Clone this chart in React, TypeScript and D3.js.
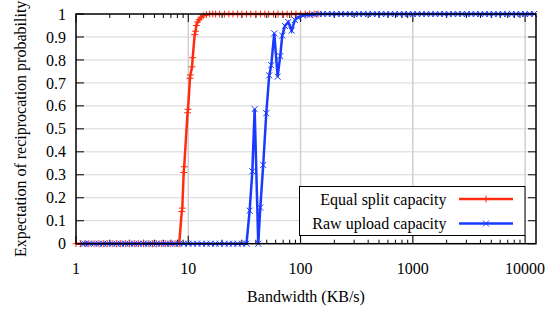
import React, { useRef, useEffect } from 'react';
import * as d3 from 'd3';

// Equal split capacity: flat zero part, the rise, then flat at one
const redZeroX = [1, 1.1, 1.2, 1.3, 1.45, 1.6, 1.75, 1.9, 2.1, 2.3, 2.5, 2.75, 3, 3.3, 3.6, 4, 4.4, 4.8, 5.2, 5.75, 6.3, 6.9, 7.6, 8.3];
const redRise = [
  [8.75, 0.14], [8.85, 0.155], [9.1, 0.31], [9.2, 0.335], [9.85, 0.57], [9.95, 0.585],
  [10.35, 0.72], [10.45, 0.735], [10.8, 0.77], [10.95, 0.81], [11.4, 0.91], [11.6, 0.925],
  [11.8, 0.95], [12.1, 0.965], [12.5, 0.975], [13, 0.985], [13.6, 0.993], [14.5, 0.997],
];
const redOneX = [15.5, 16.5, 17.5, 19, 21, 23, 25, 27.5, 30, 33, 36, 40, 44, 48, 52, 57.5, 63, 69, 76, 83, 91, 100, 110, 120, 132, 143];

// Raw upload capacity
const blueZeroX = [1.15, 1.2, 1.3, 1.45, 1.6, 1.75, 1.9, 2.1, 2.3, 2.5, 2.75, 3, 3.3, 3.6, 4, 4.4, 4.8, 5.2, 5.75, 6.3, 6.9, 7.6, 8.3, 9.1, 10, 11, 12, 13.2, 14.5, 15.8, 17.4, 19, 21, 23, 25, 27.5, 30, 33];
const blueRise = [
  [35.2, 0.144], [37.2, 0.315], [39, 0.586], [42, 0], [43.8, 0.157], [46.5, 0.343],
  [49.5, 0.568], [52.6, 0.733], [54.8, 0.777], [58.3, 0.916], [62.5, 0.727], [65.9, 0.817],
  [68.7, 0.906], [72.6, 0.948], [77.7, 0.965], [83.3, 0.928], [89.1, 0.974], [94.8, 0.985],
  [105, 0.993], [121, 0.996], [132, 0.998],
];
const blueOneX = [145, 158, 174, 190, 209, 229, 251, 275, 302, 331, 363, 398, 437, 479, 525, 575, 631, 692, 759, 832, 912, 1000, 1096, 1202, 1318, 1445, 1585, 1738, 1905, 2089, 2291, 2512, 2754, 3020, 3311, 3631, 3981, 4365, 4786, 5248, 5754, 6310, 6918, 7586, 8318, 9120, 10000, 10960, 12020];

const xTicks = [1, 10, 100, 1000, 10000];
const yTicks = [0, 0.1, 0.2, 0.3, 0.4, 0.5, 0.6, 0.7, 0.8, 0.9, 1];
const seriesNames = ['Equal split capacity', 'Raw upload capacity'];

const RED = '#ff2d10';
const BLUE = '#1a3aff';
const FONT = '"Liberation Serif", "Times New Roman", "DejaVu Serif", serif';

function App() {
  const gRef = useRef(null);

  useEffect(() => {
    const svg = d3.select(gRef.current);
    svg.selectAll('*').remove();

    const left = 76, right = 536, top = 14, bottom = 243.7;

    const x = d3.scaleLog().domain([1, 12500]).range([left, right]);
    const y = d3.scaleLinear().domain([0, 1]).range([bottom, top]);

    const red = [
      ...redZeroX.map((v) => [v, 0]),
      ...redRise,
      ...redOneX.map((v) => [v, 1]),
    ];
    const blue = [
      ...blueZeroX.map((v) => [v, 0]),
      ...blueRise,
      ...blueOneX.map((v) => [v, 1]),
    ];

    // grid
    svg.append('g')
      .selectAll('line')
      .data(yTicks.slice(1, -1))
      .join('line')
      .attr('x1', left).attr('x2', right)
      .attr('y1', (d) => y(d)).attr('y2', (d) => y(d))
      .attr('stroke', '#d6d6d6').attr('stroke-width', 1);
    svg.append('g')
      .selectAll('line')
      .data(xTicks.slice(1))
      .join('line')
      .attr('x1', (d) => x(d)).attr('x2', (d) => x(d))
      .attr('y1', top).attr('y2', bottom)
      .attr('stroke', '#d0d0d0').attr('stroke-width', 1.5);

    // ticks (inward, mirrored)
    const minor = [];
    for (let dec = 1; dec <= 10000; dec *= 10) {
      for (let m = 2; m <= 9; m++) if (dec * m < 12500) minor.push(dec * m);
    }
    const ticks = svg.append('g').attr('stroke', '#000').attr('stroke-width', 1);
    yTicks.forEach((t) => {
      ticks.append('line').attr('x1', left).attr('x2', left + 8).attr('y1', y(t)).attr('y2', y(t));
      ticks.append('line').attr('x1', right - 8).attr('x2', right).attr('y1', y(t)).attr('y2', y(t));
    });
    xTicks.forEach((t) => {
      ticks.append('line').attr('x1', x(t)).attr('x2', x(t)).attr('y1', bottom).attr('y2', bottom - 8);
      ticks.append('line').attr('x1', x(t)).attr('x2', x(t)).attr('y1', top).attr('y2', top + 8);
    });
    minor.forEach((t) => {
      ticks.append('line').attr('x1', x(t)).attr('x2', x(t)).attr('y1', bottom).attr('y2', bottom - 4);
      ticks.append('line').attr('x1', x(t)).attr('x2', x(t)).attr('y1', top).attr('y2', top + 4);
    });

    const line = d3.line().x((d) => x(d[0])).y((d) => y(d[1]));

    const drawPlus = (g, cx, cy, color) => {
      g.append('path')
        .attr('d', `M${cx - 3.5},${cy}H${cx + 3.5}M${cx},${cy - 3.5}V${cy + 3.5}`)
        .attr('stroke', color).attr('stroke-width', 1).attr('fill', 'none');
    };
    const drawCross = (g, cx, cy, color) => {
      g.append('path')
        .attr('d', `M${cx - 3},${cy - 3}L${cx + 3},${cy + 3}M${cx - 3},${cy + 3}L${cx + 3},${cy - 3}`)
        .attr('stroke', color).attr('stroke-width', 1).attr('fill', 'none');
    };

    // Equal split
    svg.append('path').datum(red).attr('d', line)
      .attr('fill', 'none').attr('stroke', RED).attr('stroke-width', 2.5);
    const rm = svg.append('g');
    red.forEach((d) => drawPlus(rm, x(d[0]), y(d[1]), RED));

    // Raw upload
    svg.append('path').datum(blue).attr('d', line)
      .attr('fill', 'none').attr('stroke', BLUE).attr('stroke-width', 2.5);
    const bm = svg.append('g');
    blue.forEach((d) => drawCross(bm, x(d[0]), y(d[1]), BLUE));

    // border
    svg.append('rect')
      .attr('x', left).attr('y', top).attr('width', right - left).attr('height', bottom - top)
      .attr('fill', 'none').attr('stroke', '#000').attr('stroke-width', 1.5);

    const text = (sel) => sel.attr('font-family', FONT).attr('font-size', 16).attr('fill', '#000');

    // tick labels
    svg.append('g')
      .selectAll('text')
      .data(yTicks)
      .join('text')
      .attr('x', 66).attr('y', (d) => y(d))
      .attr('dy', '0.35em')
      .attr('text-anchor', 'end')
      .call(text)
      .text((d) => String(d));
    svg.append('g')
      .selectAll('text')
      .data(xTicks)
      .join('text')
      .attr('x', (d) => x(d)).attr('y', 268)
      .attr('dy', '0.35em')
      .attr('text-anchor', 'middle')
      .call(text)
      .text((d) => String(d));

    // axis titles
    svg.append('text')
      .attr('x', (left + right) / 2).attr('y', 296)
      .attr('dy', '0.35em')
      .attr('text-anchor', 'middle')
      .call(text)
      .text('Bandwidth (KB/s)');
    svg.append('text')
      .attr('transform', `translate(20,${(top + bottom) / 2}) rotate(-90)`)
      .attr('dy', '0.35em')
      .attr('text-anchor', 'middle')
      .call(text)
      .text('Expectation of reciprocation probability');

    // legend
    const lg = svg.append('g');
    lg.append('rect')
      .attr('x', 299.5).attr('y', 186.5).attr('width', 225.5).attr('height', 49)
      .attr('fill', '#fff').attr('stroke', '#000').attr('stroke-width', 1);
    const rows = [
      { name: seriesNames[0], color: RED, y: 199, mark: drawPlus },
      { name: seriesNames[1], color: BLUE, y: 223.5, mark: drawCross },
    ];
    rows.forEach((r) => {
      lg.append('text')
        .attr('x', 446.5).attr('y', r.y).attr('dy', '0.35em')
        .attr('text-anchor', 'end')
        .call(text)
        .text(r.name);
      lg.append('line')
        .attr('x1', 459).attr('x2', 513).attr('y1', r.y).attr('y2', r.y)
        .attr('stroke', r.color).attr('stroke-width', 2.5);
      r.mark(lg, 486, r.y, r.color);
    });
  }, []);

  return (
    <svg width={552} height={310} style={{ position: 'absolute', left: 0, top: 0 }}>
      <g ref={gRef} />
    </svg>
  );
}

export default App;
